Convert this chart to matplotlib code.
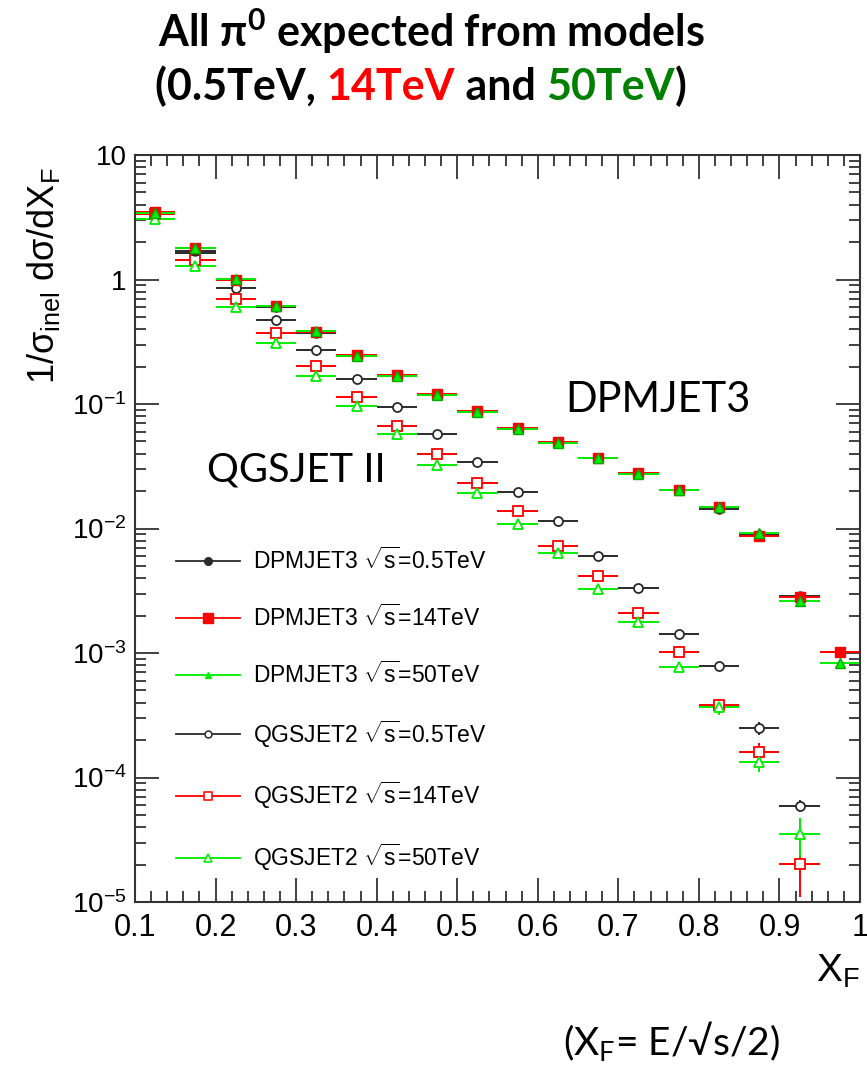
import math
import matplotlib
matplotlib.use("Agg")
import matplotlib.pyplot as plt
from matplotlib.ticker import MultipleLocator, LogLocator, FuncFormatter, NullFormatter
from matplotlib.lines import Line2D

plt.rcParams['font.family'] = ['Liberation Sans', 'DejaVu Sans']
plt.rcParams['mathtext.fontset'] = 'custom'
plt.rcParams['mathtext.rm'] = 'Liberation Sans'
plt.rcParams['mathtext.it'] = 'Liberation Sans:italic'
plt.rcParams['mathtext.bf'] = 'Liberation Sans:bold'
plt.rcParams['axes.unicode_minus'] = False

# bin centres in X_F (bin width 0.05)
xf = [0.125, 0.175, 0.225, 0.275, 0.325, 0.375, 0.425, 0.475, 0.525,
      0.575, 0.625, 0.675, 0.725, 0.775, 0.825, 0.875, 0.925, 0.975]
bin_half = 0.025

dpm_05 = [3.50, 1.70, 0.99, 0.600, 0.375, 0.245, 0.168, 0.118, 0.0870,
          0.0630, 0.0490, 0.0365, 0.0275, 0.0202, 0.01435, 0.0089, 0.00287, 0.00101]
dpm_14 = [3.47, 1.78, 1.00, 0.612, 0.381, 0.248, 0.171, 0.120, 0.0879,
          0.0637, 0.0492, 0.0366, 0.0277, 0.0204, 0.0148, 0.0087, 0.0028, 0.00101]
dpm_50 = [3.40, 1.80, 1.01, 0.615, 0.385, 0.245, 0.168, 0.119, 0.0870,
          0.0630, 0.0490, 0.0365, 0.0276, 0.0203, 0.0150, 0.00925, 0.00263, 0.000826]

qgs_05 = [3.40, 1.64, 0.86, 0.470, 0.272, 0.159, 0.095, 0.057, 0.0340,
          0.0198, 0.0115, 0.0060, 0.00331, 0.00142, 0.00078, 0.00025, 5.9e-5]
qgs_14 = [3.35, 1.44, 0.70, 0.370, 0.203, 0.1146, 0.067, 0.040, 0.0231,
          0.0137, 0.0073, 0.00415, 0.00208, 0.00101, 0.00038, 0.000161, 2.02e-5]
qgs_50 = [3.06, 1.28, 0.605, 0.307, 0.168, 0.097, 0.057, 0.0324, 0.0194,
          0.0108, 0.0063, 0.00325, 0.00176, 0.000776, 0.00037, 0.000134, 3.5e-5]

# statistical errors (only visible at high X_F)
qgs_05_err = [0]*14 + [1.5e-5, 2.9e-5, 6.5e-6]
qgs_14_err = [0]*14 + [5e-5, 2.8e-5, 9.2e-6]
qgs_50_err = [0]*14 + [5e-5, 2.4e-5, 1.2e-5]

labels = [r'DPMJET3 $\sqrt{\mathrm{s}}$=0.5TeV', r'DPMJET3 $\sqrt{\mathrm{s}}$=14TeV',
          r'DPMJET3 $\sqrt{\mathrm{s}}$=50TeV', r'QGSJET2 $\sqrt{\mathrm{s}}$=0.5TeV',
          r'QGSJET2 $\sqrt{\mathrm{s}}$=14TeV', r'QGSJET2 $\sqrt{\mathrm{s}}$=50TeV']

BLACK = '#2a2a2a'
RED = '#ff0000'
GREEN = '#00ee00'

fig = plt.figure(figsize=(8.67, 10.68), dpi=100)
ax = fig.add_axes([135/867, 166/1068, 725/867, 747/1068])

n = len(qgs_05)
ax.errorbar(xf[:n], qgs_05, xerr=bin_half, yerr=qgs_05_err, fmt='o', color=BLACK,
            mfc='white', mec=BLACK, ms=6.5, mew=1.3, elinewidth=1.4, capsize=0)
ax.errorbar(xf[:n], qgs_14, xerr=bin_half, yerr=qgs_14_err, fmt='s', color=RED,
            mfc='white', mec=RED, ms=7, mew=1.3, elinewidth=1.4, capsize=0)
ax.errorbar(xf[:n], qgs_50, xerr=bin_half, yerr=qgs_50_err, fmt='^', color=GREEN,
            mfc='white', mec=GREEN, ms=7, mew=1.3, elinewidth=1.4, capsize=0)
ax.errorbar(xf, dpm_05, xerr=bin_half, fmt='o', color=BLACK, ms=6.5,
            elinewidth=1.4, capsize=0)
ax.errorbar(xf, dpm_14, xerr=bin_half, fmt='s', color=RED, ms=7.5,
            elinewidth=1.4, capsize=0)
ax.errorbar(xf, dpm_50, xerr=bin_half, fmt='^', color=GREEN, mec='#00aa00', ms=7,
            elinewidth=1.4, capsize=0)

ax.set_yscale('log')
ax.set_xlim(0.1, 1.0)
ax.set_ylim(1e-5, 10)

ax.xaxis.set_major_locator(MultipleLocator(0.1))
ax.xaxis.set_minor_locator(MultipleLocator(0.02))
ax.xaxis.set_major_formatter(FuncFormatter(lambda v, p: '1' if abs(v - 1) < 1e-6 else f'{v:.1f}'))
ax.yaxis.set_major_locator(LogLocator(base=10, numticks=20))
ax.yaxis.set_minor_locator(LogLocator(base=10, subs=range(2, 10), numticks=20))
ax.yaxis.set_minor_formatter(NullFormatter())


def yfmt(v, p):
    if abs(v - 10) < 1e-9:
        return '10'
    if abs(v - 1) < 1e-9:
        return '1'
    e = int(round(math.log10(v)))
    return r'10$^{%d}$' % e


ax.yaxis.set_major_formatter(FuncFormatter(yfmt))

for s in ax.spines.values():
    s.set_linewidth(1.5)
    s.set_color('#333333')
ax.tick_params(which='both', direction='in', top=True, right=True, colors='#333333',
               width=1.3, labelsize=20, labelcolor='black')
ax.tick_params(which='major', length=17)
ax.tick_params(which='minor', length=8)
ax.tick_params(axis='x', pad=8, labelsize=22)
ax.tick_params(axis='y', pad=6)

ax.set_ylabel(r'1/σ$_{\mathrm{inel}}$ dσ/dX$_{\mathrm{F}}$', fontsize=26)
ax.yaxis.set_label_coords(-0.100, 0.838)
ax.set_xlabel(r'X$_{\mathrm{F}}$', fontsize=28, loc='right')
ax.xaxis.set_label_coords(1.0, -0.068)

# legend
handles = [
    Line2D([], [], color=BLACK, lw=1.3, marker='o', ms=5.5),
    Line2D([], [], color=RED, lw=1.3, marker='s', ms=7),
    Line2D([], [], color=GREEN, lw=1.3, marker='^', ms=5),
    Line2D([], [], color=BLACK, lw=1.3, marker='o', ms=5, mfc='white', mew=1.1),
    Line2D([], [], color=RED, lw=1.3, marker='s', ms=5.5, mfc='white', mew=1.1),
    Line2D([], [], color=GREEN, lw=1.3, marker='^', ms=5.5, mfc='white', mew=1.1),
]
ax.legend(handles, labels, loc='upper left', bbox_to_anchor=(0.0566, 0.474),
          frameon=False, fontsize=16.5, handlelength=2.8, handletextpad=0.57,
          labelspacing=1.32, borderpad=0, borderaxespad=0)

ax.text(0.099, 0.578, 'QGSJET II', transform=ax.transAxes, fontsize=28.7,
        family=['Lato', 'DejaVu Sans'], va='center', ha='left')
ax.text(0.593, 0.672, 'DPMJET3', transform=ax.transAxes, fontsize=30,
        family=['Lato', 'DejaVu Sans'], va='center', ha='left')

fig.text(563/867, 1 - 1042/1068, r'(X$_{\mathregular{F}}$= E/√s/2)', fontsize=28,
         family=['Lato', 'DejaVu Sans'], va='center', ha='left')

# title
tfam = ['Lato', 'DejaVu Sans']
fig.text(158/867, 1 - 47/1068, r'All π$^{\mathregular{0}}$ expected from models',
         fontsize=31, weight='bold', family=tfam, va='baseline', ha='left')

parts = [('(0.5TeV, ', 'black'), ('14TeV', '#ff0000'), (' and ', 'black'),
         ('50TeV', '#008000'), (')', 'black')]
fig.canvas.draw()
renderer = fig.canvas.get_renderer()
xpos = 155
for txt, col in parts:
    t = fig.text(xpos/867, 1 - 100/1068, txt, fontsize=31, weight='bold', family=tfam,
                 color=col, va='baseline', ha='left')
    xpos += t.get_window_extent(renderer=renderer).width

fig.savefig('out.png', dpi=100)
